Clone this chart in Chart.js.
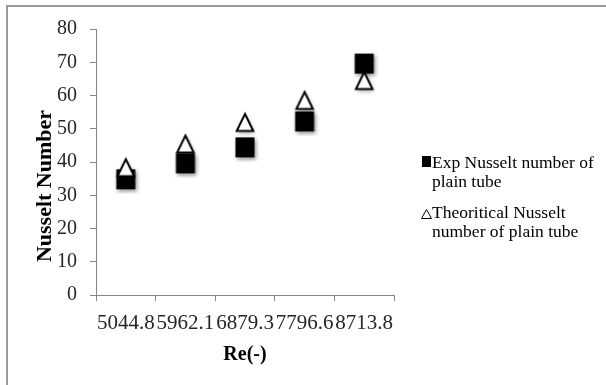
<!DOCTYPE html>
<html lang="en">

<head>
    <meta charset="UTF-8">
    <title>Nusselt Number vs Re</title>
    <script src="https://cdn.jsdelivr.net/npm/chart.js"></script>
    <style>
        body { margin: 0; background: #fff; }
        #wrap { position: relative; width: 606px; height: 385px; }
        #frame {
            position: absolute; left: 6px; top: 5px; width: 600px; height: 380px;
            border-top: 2px solid #9a9a9a; border-left: 2px solid #9a9a9a;
        }
        .legend {
            position: absolute; left: 421px; top: 0;
            font-family: 'Liberation Serif', 'Times New Roman', serif;
            font-size: 17.5px; line-height: 19px; color: #000;
        }
        .legend .row { position: absolute; left: 0; white-space: nowrap; }
        .legend .txt { position: absolute; left: 11px; top: 0; }
        .sq { position: absolute; left: 1px; top: 3px; width: 9px; height: 11px; background: #000; }
        .tri { position: absolute; left: 0; top: 6px; }
    </style>
</head>

<body>
    <div id="wrap">
        <canvas id="myChart" width="606" height="385"></canvas>
        <div id="frame"></div>
        <div class="legend">
            <div class="row" style="top:153px"><span class="sq"></span><span class="txt">Exp Nusselt number of<br>plain tube</span></div>
            <div class="row" style="top:203px">
                <svg class="tri" width="11" height="10"><polygon points="5.5,0.5 10.5,9.5 0.5,9.5" fill="none" stroke="#000" stroke-width="1"/></svg>
                <span class="txt">Theoritical Nusselt<br>number of plain tube</span></div>
        </div>
    </div>

    <script>
        // data
        const reynolds = ['5044.8', '5962.1', '6879.3', '7796.6', '8713.8'];
        const expNu = [34.8, 39.6, 44.4, 52.2, 69.6];
        const theoNu = [38.3, 45.4, 51.9, 58.5, 64.5];
        const yTicks = [0, 10, 20, 30, 40, 50, 60, 70, 80];

        const serif = "'Liberation Serif', 'Times New Roman', serif";

        // marker images with a small drop shadow like the original
        function makeSquare() {
            const c = document.createElement('canvas');
            c.width = 30; c.height = 30;
            const g = c.getContext('2d');
            g.shadowColor = 'rgba(0,0,0,0.45)';
            g.shadowBlur = 4; g.shadowOffsetX = 1; g.shadowOffsetY = 2;
            g.fillStyle = '#000';
            g.fillRect(15 - 9.5, 15 - 10, 19, 20);
            return c;
        }
        function makeTriangle() {
            const c = document.createElement('canvas');
            c.width = 30; c.height = 30;
            const g = c.getContext('2d');
            g.shadowColor = 'rgba(0,0,0,0.4)';
            g.shadowBlur = 4; g.shadowOffsetX = 1; g.shadowOffsetY = 2;
            g.beginPath();
            g.moveTo(15, 15 - 8.5);
            g.lineTo(15 + 8.3, 15 + 8.5);
            g.lineTo(15 - 8.3, 15 + 8.5);
            g.closePath();
            g.fillStyle = '#fff';
            g.fill();
            g.shadowColor = 'transparent';
            g.lineWidth = 2;
            g.strokeStyle = '#000';
            g.stroke();
            return c;
        }

        // y axis title sits a bit below the middle in the original, so draw it here
        const yTitle = {
            id: 'yTitle',
            afterDraw(chart) {
                const ctx = chart.ctx;
                ctx.save();
                ctx.translate(45, 186);
                ctx.rotate(-Math.PI / 2);
                ctx.font = 'bold 22px ' + serif;
                ctx.fillStyle = '#000';
                ctx.textAlign = 'center';
                ctx.textBaseline = 'middle';
                ctx.fillText('Nusselt Number', 0, 0);
                ctx.restore();
            }
        };

        const ctx = document.getElementById('myChart');
        new Chart(ctx, {
            type: 'line',
            data: {
                labels: reynolds,
                datasets: [{
                    label: 'Exp Nusselt number of plain tube',
                    data: expNu,
                    showLine: false,
                    pointStyle: makeSquare(),
                    order: 1
                }, {
                    label: 'Theoritical Nusselt number of plain tube',
                    data: theoNu,
                    showLine: false,
                    pointStyle: makeTriangle(),
                    order: 0
                }]
            },
            options: {
                responsive: false,
                animation: false,
                layout: { padding: { left: 0, top: 29, right: 212, bottom: 0 } },
                plugins: {
                    legend: { display: false },
                    tooltip: { enabled: false }
                },
                scales: {
                    x: {
                        offset: true,
                        afterFit: (s) => { s.height = 90; },
                        border: { color: '#868686', width: 1 },
                        grid: { offset: true, drawOnChartArea: false, drawTicks: true, tickLength: 6, color: '#868686' },
                        ticks: {
                            autoSkip: false, maxRotation: 0, padding: 10,
                            color: '#262626', font: { family: serif, size: 21 }
                        },
                        title: {
                            display: true, text: 'Re(-)', color: '#000',
                            font: { family: serif, size: 20, weight: 'bold' },
                            padding: { top: 0, bottom: 18 }
                        }
                    },
                    y: {
                        min: 0, max: 80,
                        afterFit: (s) => { s.width = 96; },
                        afterBuildTicks: (s) => { s.ticks = yTicks.map(v => ({ value: v })); },
                        border: { color: '#868686', width: 1 },
                        grid: { drawOnChartArea: false, drawTicks: true, tickLength: 6, color: '#868686' },
                        ticks: {
                            padding: 13,
                            color: '#262626', font: { family: serif, size: 20 }
                        }
                    }
                }
            },
            plugins: [yTitle]
        });
    </script>

</body>

</html>
